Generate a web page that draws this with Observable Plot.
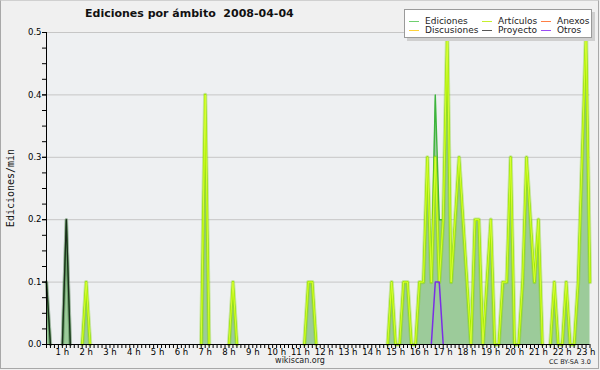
<!DOCTYPE html>
<html>
<head>
<meta charset="utf-8">
<script src="https://cdn.jsdelivr.net/npm/d3@7"></script>
<script src="https://cdn.jsdelivr.net/npm/@observablehq/plot@0.6"></script>
<style>
  html, body { margin: 0; padding: 0; background: #f0f0f0; }
  #wrap { position: relative; width: 600px; height: 370px; overflow: hidden; background: #f0f0f0; font-family: "DejaVu Sans", sans-serif; }
  #wrap svg { position: absolute; left: 0; top: 0; }
  .abs { position: absolute; white-space: pre; line-height: 1; }
  #border { position: absolute; left: 0; top: 0; width: 599px; height: 369px; box-sizing: border-box; border: 1px solid #a8a8a8; border-top-color: #d0d0d0; pointer-events: none; }
  #title { left: 85px; top: 8px; font-size: 11px; font-weight: bold; color: #111; }
  #ylab { left: 11px; top: 188px; font-family: "DejaVu Sans Mono", monospace; font-size: 10px; color: #111; transform: translate(-50%, -50%) rotate(-90deg); }
  #credit { left: 300px; top: 357px; font-size: 8px; color: #222; transform: translateX(-50%); }
  #cc { left: 549px; top: 359px; font-size: 6.5px; color: #222; }
  #legend { position: absolute; left: 404px; top: 9px; width: 188px; height: 29px; box-sizing: border-box; background: #fff; border: 1px solid #9a9a9a; box-shadow: 3px 3px 0 #cfcfcf; }
  .li { position: absolute; font-size: 9px; color: #222; line-height: 1; white-space: pre; }
  .sw { position: absolute; height: 0; border-top: 1.5px solid; width: 10px; }
</style>
</head>
<body>
<div id="wrap">
  <div id="chart"></div>
</div>
<script>
// ---- data: edits per minute in 10-minute bins, from 00:20 to 23:10 ----
const startMinute = 20;     // first bin 00:20
const stepMinute = 10;      // bin width
// each row after the first is one hour (six 10-min bins)
const ediciones = [
  0.1, 0, 0, 0,                 // 00:20-00:50
  0, 0.2, 0, 0, 0, 0,           // 1h
  0.1, 0, 0, 0, 0, 0,           // 2h
  0, 0, 0, 0, 0, 0,             // 3h
  0, 0, 0, 0, 0, 0,             // 4h
  0, 0, 0, 0, 0, 0,             // 5h
  0, 0, 0, 0, 0, 0,             // 6h
  0.4, 0, 0, 0, 0, 0,           // 7h
  0, 0.1, 0, 0, 0, 0,           // 8h
  0, 0, 0, 0, 0, 0,             // 9h
  0, 0, 0, 0, 0, 0,             // 10h
  0, 0, 0.1, 0.1, 0, 0,         // 11h
  0, 0, 0, 0, 0, 0,             // 12h
  0, 0, 0, 0, 0, 0,             // 13h
  0, 0, 0, 0, 0, 0.1,           // 14h
  0, 0, 0.1, 0.1, 0, 0,         // 15h
  0.1, 0.1, 0.3, 0.1, 0.4, 0.2, // 16h
  0.2, 0.5, 0.1, 0.2, 0.3, 0.2, // 17h
  0.1, 0, 0.2, 0.2, 0, 0.1,     // 18h
  0.2, 0, 0, 0.1, 0.1, 0.3,     // 19h
  0, 0, 0.1, 0.3, 0.2, 0.1,     // 20h
  0.2, 0, 0, 0, 0.1, 0,         // 21h
  0, 0.1, 0, 0, 0.1, 0.3,       // 22h
  0.5, 0.1                      // 23h
];
const articulos = [
  0, 0, 0, 0,
  0, 0, 0, 0, 0, 0,
  0.1, 0, 0, 0, 0, 0,
  0, 0, 0, 0, 0, 0,
  0, 0, 0, 0, 0, 0,
  0, 0, 0, 0, 0, 0,
  0, 0, 0, 0, 0, 0,
  0.4, 0, 0, 0, 0, 0,
  0, 0.1, 0, 0, 0, 0,
  0, 0, 0, 0, 0, 0,
  0, 0, 0, 0, 0, 0,
  0, 0, 0.1, 0.1, 0, 0,
  0, 0, 0, 0, 0, 0,
  0, 0, 0, 0, 0, 0,
  0, 0, 0, 0, 0, 0.1,
  0, 0, 0.1, 0.1, 0, 0,
  0.1, 0.1, 0.3, 0.1, 0.3, 0.1,
  0.2, 0.5, 0.1, 0.2, 0.3, 0.2,
  0.1, 0, 0.2, 0.2, 0, 0.1,
  0.2, 0, 0, 0.1, 0.1, 0.3,
  0, 0, 0.1, 0.3, 0.2, 0.1,
  0.2, 0, 0, 0, 0.1, 0,
  0, 0.1, 0, 0, 0.1, 0.3,
  0.5, 0.1
];
const proyecto = [
  0.1, 0, 0, 0,
  0, 0.2, 0, 0, 0, 0,
  0, 0, 0, 0, 0, 0,
  0, 0, 0, 0, 0, 0,
  0, 0, 0, 0, 0, 0,
  0, 0, 0, 0, 0, 0,
  0, 0, 0, 0, 0, 0,
  0, 0, 0, 0, 0, 0,
  0, 0, 0, 0, 0, 0,
  0, 0, 0, 0, 0, 0,
  0, 0, 0, 0, 0, 0,
  0, 0, 0, 0, 0, 0,
  0, 0, 0, 0, 0, 0,
  0, 0, 0, 0, 0, 0,
  0, 0, 0, 0, 0, 0,
  0, 0, 0, 0, 0, 0,
  0, 0, 0, 0, 0, 0,
  0, 0, 0, 0, 0, 0,
  0, 0, 0, 0, 0, 0,
  0, 0, 0, 0, 0, 0,
  0, 0, 0, 0, 0, 0,
  0, 0, 0, 0, 0, 0,
  0, 0, 0, 0, 0, 0,
  0, 0
];
const otros = [
  0, 0, 0, 0,
  0, 0, 0, 0, 0, 0,
  0, 0, 0, 0, 0, 0,
  0, 0, 0, 0, 0, 0,
  0, 0, 0, 0, 0, 0,
  0, 0, 0, 0, 0, 0,
  0, 0, 0, 0, 0, 0,
  0, 0, 0, 0, 0, 0,
  0, 0, 0, 0, 0, 0,
  0, 0, 0, 0, 0, 0,
  0, 0, 0, 0, 0, 0,
  0, 0, 0, 0, 0, 0,
  0, 0, 0, 0, 0, 0,
  0, 0, 0, 0, 0, 0,
  0, 0, 0, 0, 0, 0,
  0, 0, 0, 0, 0, 0,
  0, 0, 0, 0, 0.1, 0.1,
  0, 0, 0, 0, 0, 0,
  0, 0, 0, 0, 0, 0,
  0, 0, 0, 0, 0, 0,
  0, 0, 0, 0, 0, 0,
  0, 0, 0, 0, 0, 0,
  0, 0, 0, 0, 0, 0,
  0, 0
];
const hourLabels = [1,2,3,4,5,6,7,8,9,10,11,12,13,14,15,16,17,18,19,20,21,22,23];
const yLabelTicks = [0, 0.1, 0.2, 0.3, 0.4, 0.5];
const yGridTicks = [0.1, 0.2, 0.3, 0.4, 0.5];
const legendItems = [
  {name: "Ediciones",   color: "#6fcf6f", col: 0, row: 0},
  {name: "Discusiones", color: "#ffd23a", col: 0, row: 1},
  {name: "Artículos",   color: "#c6f02e", col: 1, row: 0},
  {name: "Proyecto",    color: "#555555", col: 1, row: 1},
  {name: "Anexos",      color: "#ff7f45", col: 2, row: 0},
  {name: "Otros",       color: "#9a4cf5", col: 2, row: 1}
];
const titleText = "Ediciones por ámbito  2008-04-04";

// ---- build table ----
const times = ediciones.map((_, i) => (startMinute + stepMinute * i) / 60);
const near = (arr, i) => (arr[i] > 0 || (i > 0 && arr[i-1] > 0) || (i < arr.length-1 && arr[i+1] > 0)) ? arr[i] : NaN;
const rows = times.map((t, i) => ({
  t,
  E: ediciones[i],
  El: near(ediciones, i),
  A: near(articulos, i),
  P: near(proyecto, i),
  O: near(otros, i)
}));
const minorY = d3.range(0, 0.5001, 0.025);

const chart = Plot.plot({
  width: 600,
  height: 370,
  marginLeft: 46,
  marginRight: 10.5,
  marginTop: 32,
  marginBottom: 26,
  style: {background: "transparent", color: "#000", fontFamily: "DejaVu Sans, sans-serif", overflow: "visible"},
  x: {domain: [times[0], times[times.length - 1]], axis: null},
  y: {domain: [0, 0.5], axis: null},
  marks: [
    Plot.frame({fill: "#eef0f2", stroke: null}),
    Plot.gridY(yGridTicks, {stroke: "#c6c6c6", strokeOpacity: 1}),
    Plot.areaY(rows, {x: "t", y: "E", fill: "#9ccb9a"}),
    Plot.lineY(rows, {x: "t", y: "El", stroke: "#3cb43c", strokeWidth: 1.4}),
    Plot.lineY(rows, {x: "t", y: "A", stroke: "#7ccf00", strokeWidth: 4.2, strokeOpacity: 0.35}),
    Plot.lineY(rows, {x: "t", y: "A", stroke: "#a2ea00", strokeWidth: 2.2}),
    Plot.lineY(rows, {x: "t", y: "A", stroke: "#dcff3a", strokeWidth: 0.9}),
    Plot.lineY(rows, {x: "t", y: "P", stroke: "#3a6a3a", strokeWidth: 3.5, strokeOpacity: 0.45}),
    Plot.lineY(rows, {x: "t", y: "P", stroke: "#1c2c1c", strokeWidth: 1.3}),
    Plot.lineY(rows, {x: "t", y: "O", stroke: "#7a2ee6", strokeWidth: 1.5}),
    Plot.axisX(times, {tickSize: 4, tickFormat: () => "", label: null}),
    Plot.axisX(hourLabels, {tickSize: 0, tickPadding: 4, tickFormat: d => `${d} h`, fontSize: 8.5, label: null}),
    Plot.axisY(minorY, {tickSize: 4, tickFormat: () => "", label: null}),
    Plot.axisY(yLabelTicks, {tickSize: 4, tickPadding: 1, tickFormat: d => d.toFixed(1), fontSize: 8.5, label: null}),
    Plot.ruleX([times[0]], {stroke: "#000"}),
    Plot.ruleY([0], {stroke: "#000"})
  ]
});

const wrap = document.getElementById("wrap");
document.getElementById("chart").appendChild(chart);

function addDiv(id, cls, text) {
  const d = document.createElement("div");
  if (id) d.id = id;
  d.className = cls;
  d.textContent = text;
  wrap.appendChild(d);
  return d;
}
addDiv("title", "abs", titleText);
addDiv("ylab", "abs", "Ediciones/min");
addDiv("credit", "abs", "wikiscan.org");
addDiv("cc", "abs", "CC BY-SA 3.0");

const legend = document.createElement("div");
legend.id = "legend";
wrap.appendChild(legend);
const colSw = [4, 77, 136];
const colTx = [20, 93, 152];
const rowY = [7, 16];
legendItems.forEach(it => {
  const sw = document.createElement("div");
  sw.className = "sw";
  sw.style.left = colSw[it.col] + "px";
  sw.style.top = (rowY[it.row] + 4) + "px";
  sw.style.borderTopColor = it.color;
  legend.appendChild(sw);
  const tx = document.createElement("div");
  tx.className = "li";
  tx.style.left = colTx[it.col] + "px";
  tx.style.top = rowY[it.row] + "px";
  tx.textContent = it.name;
  legend.appendChild(tx);
});

const border = document.createElement("div");
border.id = "border";
wrap.appendChild(border);
</script>
</body>
</html>
